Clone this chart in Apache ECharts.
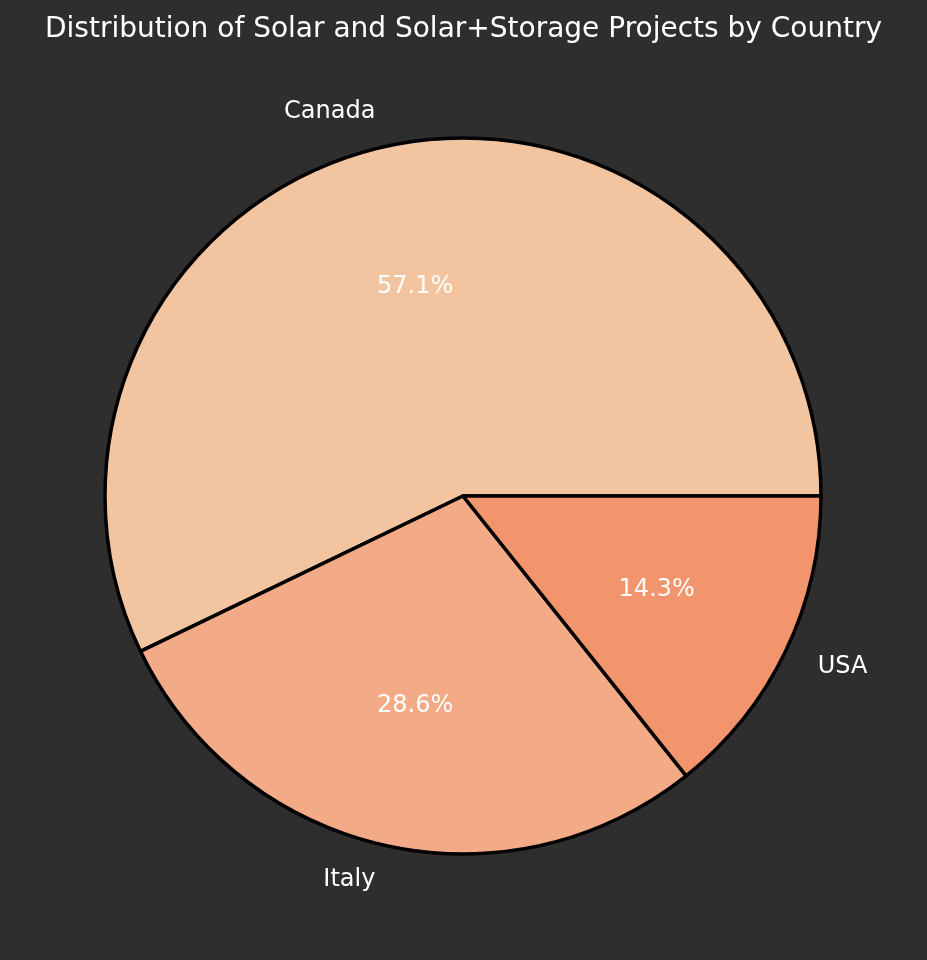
<!DOCTYPE html>
<html>
<head>
<meta charset="utf-8">
<style>
  html, body { margin: 0; padding: 0; background: #2e2e2e; }
  #chart { width: 927px; height: 960px; }
</style>
<script src="https://cdn.jsdelivr.net/npm/echarts@6/dist/echarts.min.js"></script>
</head>
<body>
<div id="chart"></div>
<script>
// data
const countries = ['Canada', 'Italy', 'USA'];
const projectCounts = [4, 2, 1];
const sliceColors = ['#f3c4a0', '#f2ab86', '#f2956d'];

const R = 358;
const FONT = 'DejaVu Sans';

const pieData = countries.map((name, i) => ({
    name: name,
    value: projectCounts[i],
    itemStyle: { color: sliceColors[i] }
}));

const chart = echarts.init(document.getElementById('chart'));

const option = {
    backgroundColor: '#2e2e2e',
    animation: false,
    title: {
        text: 'Distribution of Solar and Solar+Storage Projects by Country',
        left: 'center',
        top: 11,
        textStyle: {
            color: '#ffffff',
            fontFamily: FONT,
            fontSize: 28,
            fontWeight: 'normal',
            lineHeight: 28
        }
    },
    series: [
        {
            // slices + country names at 1.1r
            type: 'pie',
            center: [463, 496],
            radius: [0, R],
            startAngle: 0,
            clockwise: false,
            avoidLabelOverlap: false,
            itemStyle: { borderColor: '#000000', borderWidth: 3.5 },
            label: {
                show: true,
                position: 'outside',
                formatter: '{b}',
                color: '#ffffff',
                fontFamily: FONT,
                fontSize: 24,
                distanceToLabelLine: 0
            },
            labelLine: {
                show: true,
                length: R * 0.1,
                length2: 0,
                lineStyle: { opacity: 0 }
            },
            emphasis: { disabled: true },
            data: pieData
        },
        {
            // percentages near 0.6r (inside label sits at (r0 + r) / 2)
            type: 'pie',
            center: [463, 496],
            radius: [66, R],
            startAngle: 0,
            clockwise: false,
            silent: true,
            avoidLabelOverlap: false,
            itemStyle: { color: 'rgba(0,0,0,0)', borderWidth: 0 },
            label: {
                show: true,
                position: 'inside',
                formatter: p => p.percent.toFixed(1) + '%',
                color: '#ffffff',
                fontFamily: FONT,
                fontSize: 24
            },
            labelLine: { show: false },
            emphasis: { disabled: true },
            data: countries.map((name, i) => ({ name: name, value: projectCounts[i] }))
        }
    ]
};

chart.setOption(option);
</script>
</body>
</html>
